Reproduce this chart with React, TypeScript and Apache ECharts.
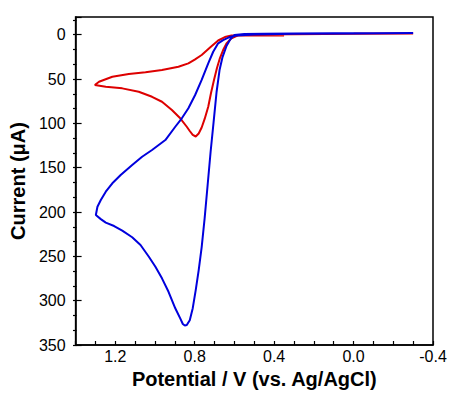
import React, { useEffect, useRef } from 'react';
import * as echarts from 'echarts';

// Blue CV (potential V, current µA)
const blueV = [-0.3, -0.1, 0.1, 0.3, 0.45, 0.55, 0.6, 0.62, 0.64, 0.66, 0.675, 0.69, 0.705, 0.72, 0.735, 0.75, 0.765, 0.78, 0.795, 0.81, 0.825, 0.84, 0.85, 0.86, 0.873, 0.898, 0.932, 0.965, 0.998, 1.031, 1.073, 1.115, 1.165, 1.206, 1.248, 1.273, 1.298, 1.29, 1.273, 1.248, 1.215, 1.173, 1.115, 1.065, 1.015, 0.948, 0.898, 0.865, 0.832, 0.798, 0.765, 0.732, 0.707, 0.682, 0.657, 0.625, 0.59, 0.5, 0.3, 0.0, -0.3];
const blueI = [-2.0, -1.8, -1.6, -1.4, -1.2, -0.8, 0.3, 4.9, 12.7, 25.2, 39.8, 64.6, 98.5, 132, 169.5, 206.8, 239.5, 265.5, 288, 308.5, 322, 327.5, 328, 326.3, 320, 308.6, 290, 274.8, 261.7, 250.4, 237.2, 228.5, 221, 215.8, 212, 208, 203.4, 194, 186.5, 177, 167.6, 158.3, 147, 137.6, 130, 118.8, 103.8, 94.3, 83, 68, 51, 32.3, 19.2, 9.7, 6, 2.6, 0.9, -0.3, -1.0, -1.5, -2.0];

// Red CV
const redV = [-0.3, 0.0, 0.3, 0.5, 0.57, 0.59, 0.615, 0.64, 0.657, 0.673, 0.688, 0.703, 0.718, 0.732, 0.75, 0.765, 0.78, 0.795, 0.81, 0.825, 0.84, 0.873, 0.915, 0.965, 1.015, 1.082, 1.165, 1.248, 1.303, 1.282, 1.215, 1.132, 1.048, 0.965, 0.882, 0.832, 0.8, 0.765, 0.723, 0.682, 0.648, 0.615, 0.55, 0.45, 0.35];
const redI = [-1.5, -1.0, -0.6, -0.2, 0.3, 1.5, 4, 9.7, 17.3, 26.3, 37.6, 51, 65.8, 81.2, 95, 104.7, 111.4, 114.8, 113, 108.6, 103.8, 94.3, 85, 75.6, 70, 64.3, 60.5, 58.7, 56.7, 53, 47.4, 44.3, 42.4, 39.8, 36.1, 32.3, 28, 22.9, 14.4, 6.5, 2.6, 0.9, 0.9, 0.9, 0.8];

const xTickLabels = ['1.2', '0.8', '0.4', '0.0', '-0.4'];
const yTickLabels = ['0', '50', '100', '150', '200', '250', '300', '350'];

const X_MIN = -0.4;
const X_MAX = 1.4;
const Y_MIN = -20;
const Y_MAX = 350;
const Y_MINOR = 50 / 3;

const FONT = 'Liberation Sans, Arial, sans-serif';

export default function App() {
  const ref = useRef<HTMLDivElement>(null);
  useEffect(() => {
    if (!ref.current) return;
    const chart = echarts.init(ref.current, undefined, { renderer: 'svg' });
    const gridTop = 17;
    const gridBottomPx = 345;
    const scale = (gridBottomPx - gridTop) / (Y_MAX - Y_MIN);
    const grid2Top = gridBottomPx - (Y_MAX + Y_MINOR) * scale;
    const gLeft = 73;
    const gRight = 20;
    const gBottom = 395 - gridBottomPx;

    const toPairs = (v: number[], i: number[]) => v.map((x, k) => [x, i[k]]);

    chart.setOption({
      animation: false,
      backgroundColor: '#ffffff',
      grid: [
        { left: gLeft, right: gRight, top: gridTop, bottom: gBottom, show: true, borderColor: '#000', borderWidth: 1.5, backgroundColor: 'transparent' },
        { left: gLeft, right: gRight, top: grid2Top, bottom: gBottom, show: false },
      ],
      xAxis: [
        {
          gridIndex: 0,
          type: 'value',
          min: X_MIN,
          max: X_MAX,
          interval: 0.1,
          inverse: true,
          position: 'bottom',
          name: 'Potential / V (vs. Ag/AgCl)',
          nameLocation: 'middle',
          nameGap: 23,
          nameTextStyle: { fontFamily: FONT, fontWeight: 'bold', fontSize: 20, color: '#000' },
          axisLine: { show: true, onZero: false, lineStyle: { color: '#000', width: 1.5 } },
          axisTick: { show: true, inside: true, length: 4, lineStyle: { color: '#000', width: 1.2 } },
          axisLabel: {
            margin: 3,
            fontFamily: FONT,
            fontSize: 16,
            color: '#000',
            formatter: (v: number) => {
              const s = Math.abs(v) < 1e-9 ? '0.0' : v.toFixed(1);
              return xTickLabels.includes(s) ? s : '';
            },
          },
          splitLine: { show: false },
        },
        { gridIndex: 1, type: 'value', min: X_MIN, max: X_MAX, inverse: true, show: false, axisLine: { onZero: false } },
      ],
      yAxis: [
        {
          gridIndex: 0,
          type: 'value',
          min: Y_MIN,
          max: Y_MAX,
          splitNumber: 7,
          inverse: true,
          position: 'left',
          name: 'Current (\u03bcA)',
          nameLocation: 'middle',
          nameGap: 44,
          nameTextStyle: { fontFamily: FONT, fontWeight: 'bold', fontSize: 20, color: '#000' },
          axisLine: { show: true, onZero: false, lineStyle: { color: '#000', width: 1.5 } },
          axisTick: { show: true, inside: true, length: 6, lineStyle: { color: '#000', width: 1.2 } },
          axisLabel: {
            margin: 10,
            fontFamily: FONT,
            fontSize: 16,
            color: '#000',
            formatter: (v: number) => {
              const s = String(Math.round(v));
              return v >= -0.001 && yTickLabels.includes(s) ? s : '';
            },
          },
          splitLine: { show: false },
        },
        {
          gridIndex: 1,
          type: 'value',
          min: -Y_MINOR,
          max: Y_MAX,
          interval: Y_MINOR,
          inverse: true,
          position: 'left',
          axisLine: { show: false, onZero: false },
          axisTick: { show: true, inside: true, length: 3.5, lineStyle: { color: '#000', width: 1.2 } },
          axisLabel: { show: false },
          splitLine: { show: false },
        },
      ],
      series: [
        {
          type: 'line',
          xAxisIndex: 0,
          yAxisIndex: 0,
          data: toPairs(redV, redI),
          showSymbol: false,
          symbol: 'none',
          lineStyle: { color: '#dd0000', width: 2 },
          z: 2,
        },
        {
          type: 'line',
          xAxisIndex: 0,
          yAxisIndex: 0,
          data: toPairs(blueV, blueI),
          showSymbol: false,
          symbol: 'none',
          lineStyle: { color: '#0000dd', width: 2 },
          z: 3,
        },
      ],
    });
    return () => chart.dispose();
  }, []);
  return <div ref={ref} style={{ position: 'fixed', left: 0, top: 0, width: 453, height: 395 }} />;
}
